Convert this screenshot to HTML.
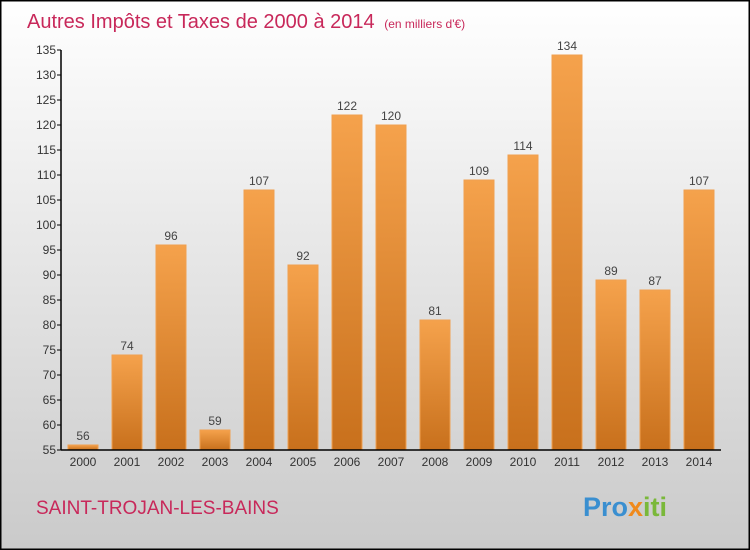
<!DOCTYPE html>
<html><head><meta charset="utf-8"><style>
body{margin:0}
#c{width:750px;height:550px;position:relative;overflow:hidden;font-family:"Liberation Sans",sans-serif}
</style></head><body>
<div id="c">
<svg id="s" width="750" height="550" xmlns="http://www.w3.org/2000/svg">
<defs>
<linearGradient id="bg" x1="0" y1="0" x2="0" y2="1"><stop offset="0" stop-color="#ffffff"/><stop offset="1" stop-color="#cacaca"/></linearGradient>
<linearGradient id="bar" x1="0" y1="0" x2="0" y2="1"><stop offset="0" stop-color="#f5a24c"/><stop offset="1" stop-color="#c8701c"/></linearGradient>
</defs>
<rect x="0.5" y="0.5" width="749" height="549" fill="url(#bg)" stroke="#000" stroke-width="2"/>
<text x="27" y="28" font-size="20" fill="#c8285a">Autres Impôts et Taxes de 2000 à 2014 <tspan font-size="12" dx="4">(en milliers d'€)</tspan></text>
<text x="36" y="514" font-size="19" fill="#c8285a">SAINT-TROJAN-LES-BAINS</text>
<text x="583" y="516" font-size="27" font-weight="bold" fill="#3a8fd0">Pro<tspan fill="#f08a1c">x</tspan><tspan fill="#7ab83a">iti</tspan></text>
<g id="g"></g>
</svg>
</div>
<script>
const years=["2000","2001","2002","2003","2004","2005","2006","2007","2008","2009","2010","2011","2012","2013","2014"];
const values=[56,74,96,59,107,92,122,120,81,109,114,134,89,87,107];
const yTicks=[55,60,65,70,75,80,85,90,95,100,105,110,115,120,125,130,135];
const NS="http://www.w3.org/2000/svg";
const g=document.getElementById('g');
const x0=61,x1=721,yTop=50,yBot=450,vMin=55,vMax=135;
const step=(x1-x0)/years.length;
const y=v=>yBot-(v-vMin)/(vMax-vMin)*(yBot-yTop);
const xc=i=>x0+step*(i+0.5);
function mk(t,a){const e=document.createElementNS(NS,t);for(const k in a)e.setAttribute(k,a[k]);g.appendChild(e);return e;}
values.forEach((v,i)=>{
 const r=mk('rect',{x:xc(i)-15,y:y(v),width:30,height:yBot-y(v),fill:'url(#bar)',stroke:'#f0a050','stroke-width':1});
 
 
 const t=mk('text',{x:xc(i),y:y(v)-5,'text-anchor':'middle','font-size':12,fill:'#444'});
 t.textContent=v;
 
 
 const xl=mk('text',{x:xc(i),y:yBot+16,'text-anchor':'middle','font-size':12,fill:'#333'});
 xl.textContent=years[i];
 
 
});
yTicks.forEach(v=>{
 const l=mk('line',{x1:x0-4,x2:x0,y1:y(v),y2:y(v),stroke:'#000'});
 
 
 const t=mk('text',{x:x0-5,y:y(v)+4,'text-anchor':'end','font-size':12,fill:'#333'});
 t.textContent=v;
 
 
});
const ya=mk('line',{x1:x0,x2:x0,y1:yTop,y2:yBot,stroke:'#000','stroke-width':1.5});


const xa=mk('line',{x1:x0,x2:x1,y1:yBot,y2:yBot,stroke:'#000','stroke-width':1.5});


</script>
</body></html>
